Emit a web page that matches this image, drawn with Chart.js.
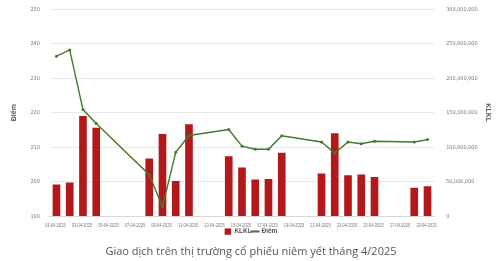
<!DOCTYPE html>
<html>
<head>
<meta charset="utf-8">
<script src="https://cdn.jsdelivr.net/npm/chart.js@4/dist/chart.umd.min.js"></script>
<style>
  html, body { margin: 0; padding: 0; background: #fff; overflow: hidden; }
  #wrap { width: 497px; height: 265px; margin-top: -4px; }
</style>
</head>
<body>
<div id="wrap"><canvas id="Trading"></canvas></div>
<script>
// days of April 2025 (categories)
const days = [
  "01-04-2025", "02-04-2025", "03-04-2025", "04-04-2025", "05-04-2025", "06-04-2025", "07-04-2025",
  "08-04-2025", "09-04-2025", "10-04-2025", "11-04-2025", "12-04-2025", "13-04-2025", "14-04-2025",
  "15-04-2025", "16-04-2025", "17-04-2025", "18-04-2025", "19-04-2025", "20-04-2025", "21-04-2025",
  "22-04-2025", "23-04-2025", "24-04-2025", "25-04-2025", "26-04-2025", "27-04-2025", "28-04-2025",
  "29-04-2025"
];

// trading volume (KLKL), right axis
const volume = [
  45200000, 48100000, 144800000, 127700000, null, null, null,
  83100000, 118500000, 50500000, 132700000, null, null, 86500000,
  70000000, 52500000, 53400000, 91300000, null, null, 61200000,
  119600000, 58800000, 59800000, 56300000, null, null, 40800000,
  42700000
];

// index points (Điểm), left axis
const points = [
  236.4, 238.2, 220.9, 216.9, null, null, null,
  202.0, 192.7, 208.5, 213.4, null, null, 215.1,
  210.3, 209.4, 209.4, 213.3, null, null, 211.5,
  208.3, 211.5, 211.0, 211.7, null, null, 211.5,
  212.2
];

const leftTicks = { min: 190, max: 250, step: 10 };
const rightTicks = { min: 0, max: 300000000, step: 50000000 };

const tickFont = { family: "'DejaVu Sans Condensed', 'Liberation Sans', Arial, sans-serif", size: 5.5 };
const tickColor = "#777";

// x labels in the source are squeezed, so draw them horizontally compressed
const narrowXLabels = {
  id: "narrowXLabels",
  afterDraw(chart) {
    const x = chart.scales.x;
    const c = chart.ctx;
    c.save();
    c.font = "6px 'Liberation Sans', Arial, sans-serif";
    c.fillStyle = tickColor;
    c.textAlign = "center";
    c.textBaseline = "middle";
    const y = x.top + 9;
    days.forEach((d, i) => {
      if (i % 2 !== 0) return;
      const px = x.getPixelForTick(i) - 1;
      c.save();
      c.translate(px, y);
      c.scale(0.66, 1);
      c.fillText(d, 0, 0);
      c.restore();
    });
    c.restore();
  },
};

const ctx = document.getElementById("Trading").getContext("2d");
new Chart(ctx, {
  data: {
    labels: days,
    datasets: [
      {
        type: "line",
        label: "Điểm",
        data: points,
        yAxisID: "y",
        borderColor: "#3f7a2c",
        backgroundColor: "#3f7a2c",
        borderWidth: 1.4,
        pointRadius: 0.8,
        pointHoverRadius: 2,
        spanGaps: true,
        tension: 0,
        order: 0,
      },
      {
        type: "bar",
        label: "KLKL",
        data: volume,
        yAxisID: "y1",
        backgroundColor: "#b3191b",
        barThickness: 7,
        order: 1,
      },
    ],
  },
  options: {
    responsive: true,
    maintainAspectRatio: false,
    animation: false,
    layout: { padding: { left: 8, right: 3, top: 0, bottom: 0 } },
    scales: {
      x: {
        grid: { display: false, drawTicks: true, tickLength: 3 },
        border: { display: true, color: "#d8d8d8" },
        ticks: {
          font: { size: 6 },
          color: "rgba(0,0,0,0)",
          autoSkip: false,
          maxRotation: 0,
          padding: 1,
          callback: () => "0",
        },
      },
      y: {
        position: "left",
        min: leftTicks.min,
        max: leftTicks.max,
        ticks: { stepSize: leftTicks.step, font: tickFont, color: tickColor, padding: 10 },
        grid: { color: "#e8e8e8", drawTicks: false },
        border: { display: false },
        title: {
          display: true,
          text: "Điểm",
          font: { family: "'Liberation Sans', Arial, sans-serif", size: 7, weight: "bold" },
          color: "#555",
          padding: 2,
        },
      },
      y1: {
        position: "right",
        min: rightTicks.min,
        max: rightTicks.max,
        ticks: {
          stepSize: rightTicks.step,
          font: tickFont,
          color: tickColor,
          padding: 4,
          callback: (v) => v.toLocaleString("en-US"),
        },
        grid: { display: false },
        border: { display: false },
        title: {
          display: true,
          text: "KLKL",
          font: { family: "'Liberation Sans', Arial, sans-serif", size: 7, weight: "bold" },
          color: "#555",
          padding: 2,
        },
      },
    },
    plugins: {
      legend: {
        position: "bottom",
        reverse: true,
        labels: {
          font: { family: "'Liberation Sans', Arial, sans-serif", size: 6.5, weight: "bold" },
          color: "#555",
          boxWidth: 9,
          boxHeight: 7,
          padding: 0,
          usePointStyle: true,
          generateLabels: (chart) => {
            const items = Chart.defaults.plugins.legend.labels.generateLabels(chart);
            items.forEach((it) => {
              const ds = chart.data.datasets[it.datasetIndex];
              it.pointStyle = ds.type === "line" ? "line" : "rect";
              it.lineWidth = ds.type === "line" ? 2 : 0;
              it.strokeStyle = ds.type === "line" ? "#3f7a2c" : "#b3191b";
            });
            return items;
          },
        },
      },
      title: {
        display: true,
        position: "bottom",
        text: "Giao dịch trên thị trường cổ phiếu niêm yết tháng 4/2025",
        font: { family: "'Open Sans', 'Liberation Sans', Arial, sans-serif", size: 11, weight: "normal" },
        color: "#555",
        padding: { top: 0, bottom: 3 },
      },
      tooltip: { enabled: false },
    },
  },
  plugins: [narrowXLabels],
});
</script>
</body>
</html>
